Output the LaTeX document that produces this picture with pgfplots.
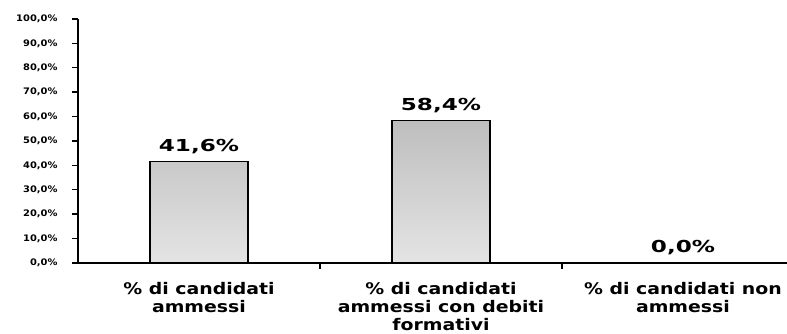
\documentclass[border=0pt]{standalone}
\usepackage{pgfplots}
\pgfplotsset{compat=1.18}
\usepackage{fontspec}
\setmainfont{DejaVu Sans}
\newfontfamily\catfont{DejaVu Sans Bold}[FakeStretch=1.18]
\newfontfamily\valfont{DejaVu Sans Bold}[FakeStretch=1.4]
\newfontfamily\tickfont{DejaVu Sans Bold}[FakeStretch=1.1]
\definecolor{bartop}{HTML}{BEBEBE}
\definecolor{barbot}{HTML}{E4E4E4}
\begin{document}
\begin{tikzpicture}
\useasboundingbox (-78pt,-71pt) rectangle (709pt,263pt);
\begin{axis}[
  at={(0,0)}, anchor=south west,
  scale only axis,
  width=709pt, height=244pt,
  xmin=-0.5, xmax=2.43,
  ymin=0, ymax=100,
  axis lines*=left,
  axis line style={line width=1.6pt,-},
  ytick={0,10,...,100},
  yticklabels={{0,0\%},{10,0\%},{20,0\%},{30,0\%},{40,0\%},{50,0\%},{60,0\%},{70,0\%},{80,0\%},{90,0\%},{100,0\%}},
  yticklabel style={font=\tickfont\fontsize{9}{10}\selectfont, xshift=-11pt},
  ytick style={line width=1.4pt, black},
  tick align=outside,
  major tick length=6pt,
  xtick={0,1,2},
  xticklabels={{\% di candidati\\ammessi},{\% di candidati\\ammessi con debiti\\formativi},{\% di candidati non\\ammessi}},
  xticklabel style={font=\catfont\fontsize{16}{18}\selectfont, align=center, yshift=-10pt},
  x tick style={draw=none},
  extra x ticks={0.5,1.5},
  extra x tick labels={},
  extra x tick style={x tick style={draw=black, line width=1.4pt}, major tick length=6pt},
  clip=false,
]
\addplot[ybar, bar width=98pt, draw=black, line width=1.4pt,
  top color=bartop, bottom color=barbot,
  nodes near coords, point meta=explicit symbolic,
  every node near coord/.append style={font=\valfont\fontsize{16.5}{18}\selectfont, yshift=4pt}]
  coordinates {(0,41.6) [41,6\%] (1,58.4) [58,4\%] (2,0) [0,0\%]};
\end{axis}
\end{tikzpicture}
\end{document}
